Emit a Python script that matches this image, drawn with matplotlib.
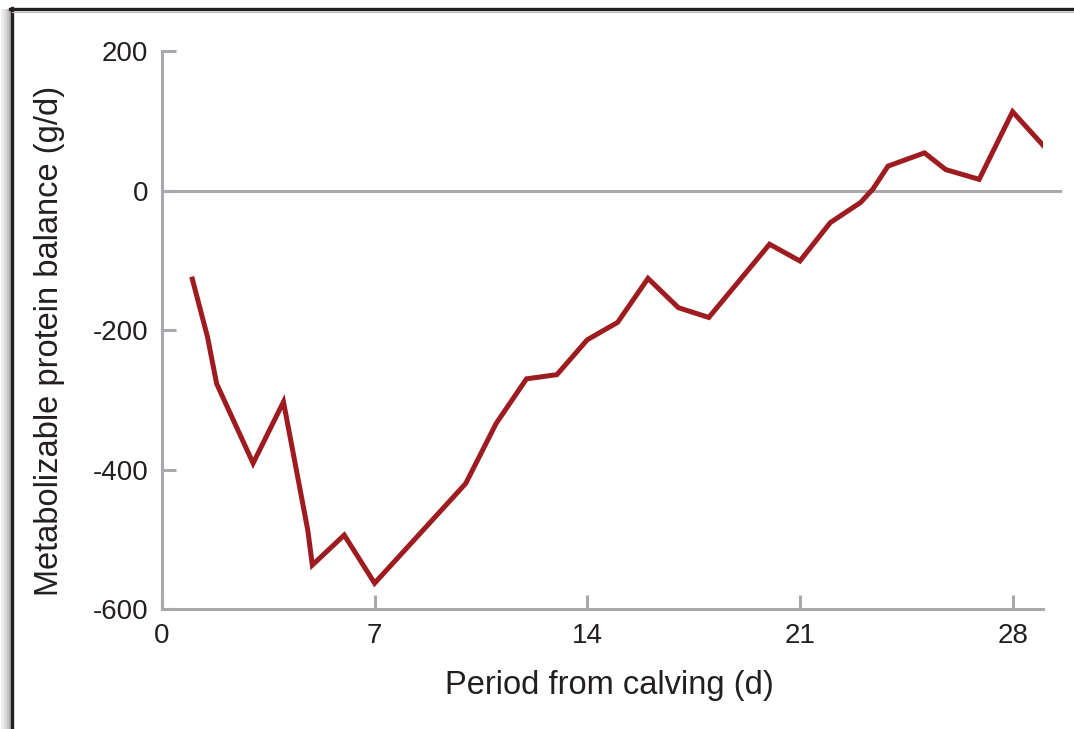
import matplotlib
matplotlib.use("Agg")
import matplotlib.pyplot as plt
from matplotlib.lines import Line2D

plt.rcParams["font.family"] = ["Liberation Sans", "DejaVu Sans"]
plt.rcParams["axes.unicode_minus"] = False

# days from calving and metabolizable protein balance (g/d)
days = [1, 1.5, 1.8, 3, 4, 4.8, 4.95, 6, 7, 10, 11, 12, 13, 14, 15, 16, 17, 18,
        20, 21, 22, 23, 23.4, 23.9, 25.1, 25.8, 26.9, 28, 29]
balance = [-127, -210, -277, -391, -303, -487, -537, -494, -563, -420, -334,
           -270, -264, -214, -189, -126, -168, -182, -77, -101, -46, -17, 2,
           35, 54, 30, 16, 113, 65]
xticks = [0, 7, 14, 21, 28]
yticks = [-600, -400, -200, 0, 200]

LINE = "#9e1b20"
AXIS = "#a7a9ac"
TEXT = "#231f20"

fig = plt.figure(figsize=(10.74, 7.29), dpi=100)
ax = fig.add_axes([0.1508, 0.1646, 0.8203, 0.7654])

ax.plot(days, balance, color=LINE, lw=3.6, solid_joinstyle="miter", zorder=3)
ax.axhline(0, xmin=0, xmax=1.019, color=AXIS, lw=2.2, clip_on=False, zorder=2)

ax.set_xlim(0, 29)
ax.set_ylim(-600, 200)
ax.set_xticks(xticks)
ax.set_yticks(yticks)
for s in ("top", "right"):
    ax.spines[s].set_visible(False)
for s in ("left", "bottom"):
    ax.spines[s].set_color(AXIS)
    ax.spines[s].set_linewidth(2.2)
ax.tick_params(direction="in", length=10, width=2.2, color=AXIS,
               labelsize=20, labelcolor=TEXT, pad=10)
ax.set_xlabel("Period from calving (d)", fontsize=23.5, color=TEXT, labelpad=15)
ax.set_ylabel("Metabolizable protein balance (g/d)", fontsize=23.5, color=TEXT,
              labelpad=20)
ax.xaxis.label.set_x(0.508)
ax.yaxis.label.set_y(0.48)

# page frame with soft shadow on the left
for i, a in enumerate([0.06, 0.1, 0.15, 0.22, 0.3]):
    fig.add_artist(Line2D([(2 + 2 * i) / 1074] * 2, [0, 1 - 10 / 729],
                          color="black", alpha=a, lw=1.5))
fig.add_artist(Line2D([11.5 / 1074] * 2, [0, 1 - 8 / 729], color="#231f20", lw=2.4))
fig.add_artist(Line2D([10 / 1074, 1], [1 - 9 / 729] * 2, color="#231f20", lw=2.4))
fig.add_artist(Line2D([12 / 1074, 1], [1 - 11.5 / 729] * 2, color="#bbbbbb", lw=0.8))

fig.savefig("out.png", dpi=100)
